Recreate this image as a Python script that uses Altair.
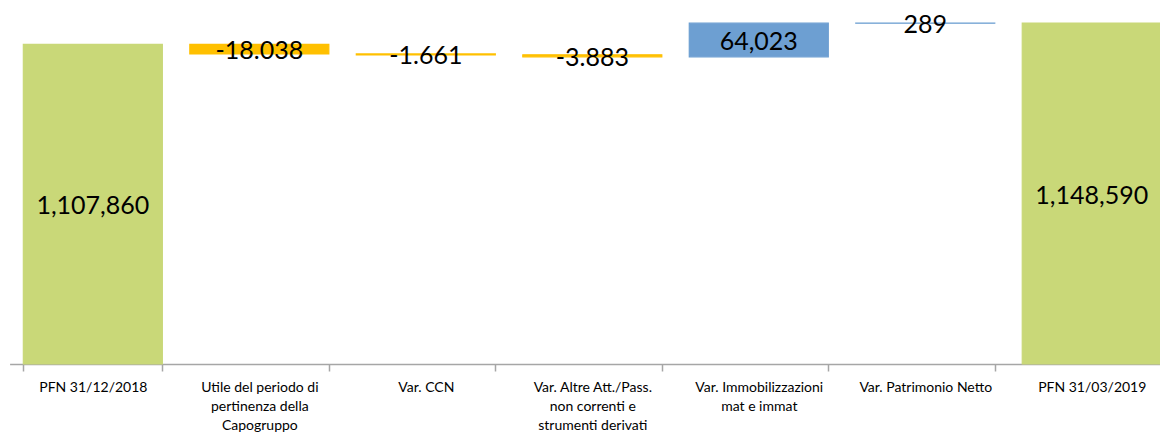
import altair as alt
import pandas as pd

categories = [
    "PFN 31/12/2018",
    "Utile del periodo di|pertinenza della|Capogruppo",
    "Var. CCN",
    "Var. Altre Att./Pass.|non correnti e|strumenti derivati",
    "Var. Immobilizzazioni|mat e immat",
    "Var. Patrimonio Netto",
    "PFN 31/03/2019",
]
values = [1107860, -18038, -1661, -3883, 64023, 289, 1148590]
kinds = ["total", "neg", "neg", "neg", "pos", "pos", "total"]
value_labels = ["1,107,860", "-18.038", "-1.661", "-3.883", "64,023", "289", "1,148,590"]

Y_MIN = 500000
Y_MAX = 1177200

rows = []
running = 0
for cat, v, k, lab in zip(categories, values, kinds, value_labels):
    if k == "total":
        start, end = 0, v
        running = v
    else:
        start, end = running, running + v
        running = end
    mid = (max(start, Y_MIN) + end) / 2
    rows.append({"cat": cat, "start": start, "end": end, "kind": k, "label": lab, "mid": mid})
df = pd.DataFrame(rows)

xenc = alt.X(
    "cat:N",
    sort=categories,
    scale=alt.Scale(range=[1.6, 1167], paddingInner=0.165, paddingOuter=0.0825),
    axis=alt.Axis(
        title=None,
        labelAngle=0,
        labelExpr="split(datum.label, '|')",
        labelFont="Lato",
        labelFontSize=14,
        labelColor="#000000",
        labelLineHeight=19,
        labelPadding=9,
        labelLimit=300,
        domainColor="#A6A6A6",
        domainWidth=1.5,
        tickColor="#A6A6A6",
        tickWidth=1.5,
        tickSize=7,
        tickBand="extent",
        grid=False,
    ),
)

yscale = alt.Scale(domain=[Y_MIN, Y_MAX], nice=False, zero=False, clamp=True)
colscale = alt.Scale(domain=["total", "neg", "pos"], range=["#C9D878", "#FFC000", "#6D9FD2"])

bars = alt.Chart(df).mark_bar(strokeWidth=1.2).encode(
    x=xenc,
    y=alt.Y("start:Q", scale=yscale, axis=None),
    y2="end:Q",
    color=alt.Color("kind:N", scale=colscale, legend=None),
    stroke=alt.Stroke("kind:N", scale=colscale, legend=None),
)

texts = alt.Chart(df).mark_text(
    font="Lato", fontSize=25, color="#000000", align="center", baseline="middle", dy=2
).encode(
    x=alt.X("cat:N", sort=categories),
    y=alt.Y("mid:Q", scale=yscale),
    text="label:N",
)

chart = (
    alt.layer(bars, texts)
    .properties(
        width=1152,
        height=356,
        padding={"left": 0, "top": 0, "right": 0, "bottom": 69},
        autosize=alt.AutoSizeParams(type="none"),
    )
    .configure_view(stroke=None)
)

chart.save("out.html", embed_options={"renderer": "svg", "actions": False})
